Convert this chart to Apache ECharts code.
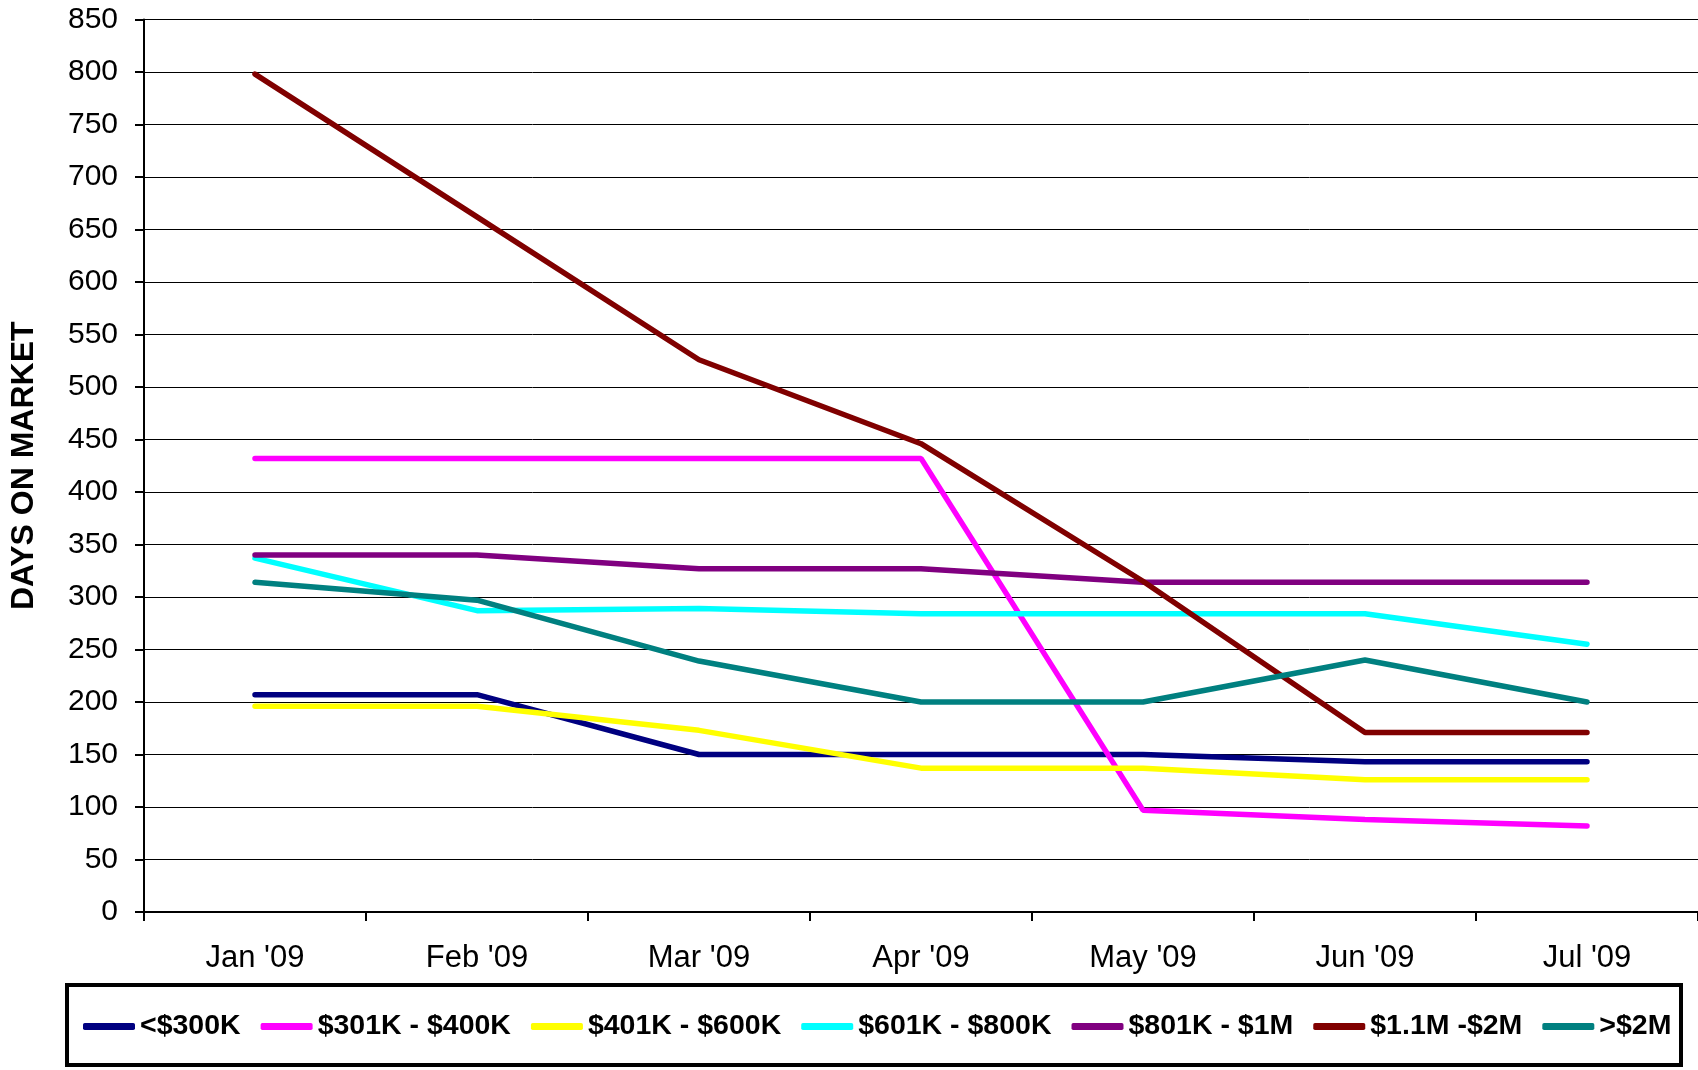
<!DOCTYPE html>
<html>
<head>
<meta charset="utf-8">
<script src="https://cdn.jsdelivr.net/npm/echarts@6/dist/echarts.min.js"></script>
<style>
html,body{margin:0;padding:0;background:#fff;}
#chart{width:1698px;height:1070px;}
</style>
</head>
<body>
<div id="chart"></div>
<script>
const categories = ["Jan '09", "Feb '09", "Mar '09", "Apr '09", "May '09", "Jun '09", "Jul '09"];
const seriesNames = ["<$300K", "$301K - $400K", "$401K - $600K", "$601K - $800K", "$801K - $1M", "$1.1M -$2M", ">$2M"];
const under300 = [207, 207, 150, 150, 150, 143, 143];
const k301to400 = [432, 432, 432, 432, 97, 88, 82];
const k401to600 = [196, 196, 173, 137, 137, 126, 126];
const k601to800 = [337, 287, 289, 284, 284, 284, 255];
const k801to1m = [340, 340, 327, 327, 314, 314, 314];
const m1to2 = [798, 662, 526, 446, 315, 171, 171];
const over2m = [314, 297, 239, 200, 200, 240, 200];
const yTicks = { min: 0, max: 850, interval: 50 };

const colors = ['#000080', '#FF00FF', '#FFFF00', '#00FFFF', '#800080', '#800000', '#008080'];
const dataSets = [under300, k301to400, k401to600, k601to800, k801to1m, m1to2, over2m];

const chart = echarts.init(document.getElementById('chart'), null, { renderer: 'canvas' });
const font = 'Liberation Sans, Arial, sans-serif';

chart.setOption({
  animation: false,
  backgroundColor: '#ffffff',
  color: colors,
  grid: { left: 143, right: 0, top: 19.5, bottom: 1070 - 912, containLabel: false },
  xAxis: {
    type: 'category',
    data: categories,
    boundaryGap: true,
    axisLine: { lineStyle: { color: '#000', width: 2 } },
    axisTick: { show: true, length: 9, lineStyle: { color: '#000', width: 2 }, alignWithLabel: false },
    axisLabel: { color: '#000', fontSize: 31, fontFamily: font, margin: 31 },
    splitLine: { show: false }
  },
  yAxis: {
    type: 'value',
    min: yTicks.min, max: yTicks.max, interval: yTicks.interval,
    name: 'DAYS ON MARKET',
    nameLocation: 'middle',
    nameGap: 104,
    nameRotate: 90,
    nameTextStyle: { color: '#000', fontSize: 32, fontWeight: 'bold', fontFamily: font },
    axisLine: { show: true, lineStyle: { color: '#000', width: 2 } },
    axisTick: { show: true, length: 9, lineStyle: { color: '#000', width: 2 } },
    axisLabel: { color: '#000', fontSize: 30, fontFamily: font, margin: 26 },
    splitLine: { show: true, lineStyle: { color: '#000', width: 1 } }
  },
  legend: {
    left: 78,
    top: 1007,
    itemWidth: 52,
    itemHeight: 7,
    itemGap: 20,
    icon: 'roundRect',
    textStyle: { color: '#000', fontSize: 28.5, fontWeight: 'bold', fontFamily: font },
    data: seriesNames
  },
  graphic: [{
    type: 'rect',
    shape: { x: 67, y: 985, width: 1614, height: 80 },
    style: { fill: 'none', stroke: '#000', lineWidth: 4 },
    silent: true,
    z: 0
  }],
  series: seriesNames.map((name, i) => ({
    name: name,
    type: 'line',
    data: dataSets[i],
    symbol: 'none',
    lineStyle: { width: 5.5, color: colors[i], cap: 'round' },
    itemStyle: { color: colors[i] }
  }))
});
</script>
</body>
</html>
